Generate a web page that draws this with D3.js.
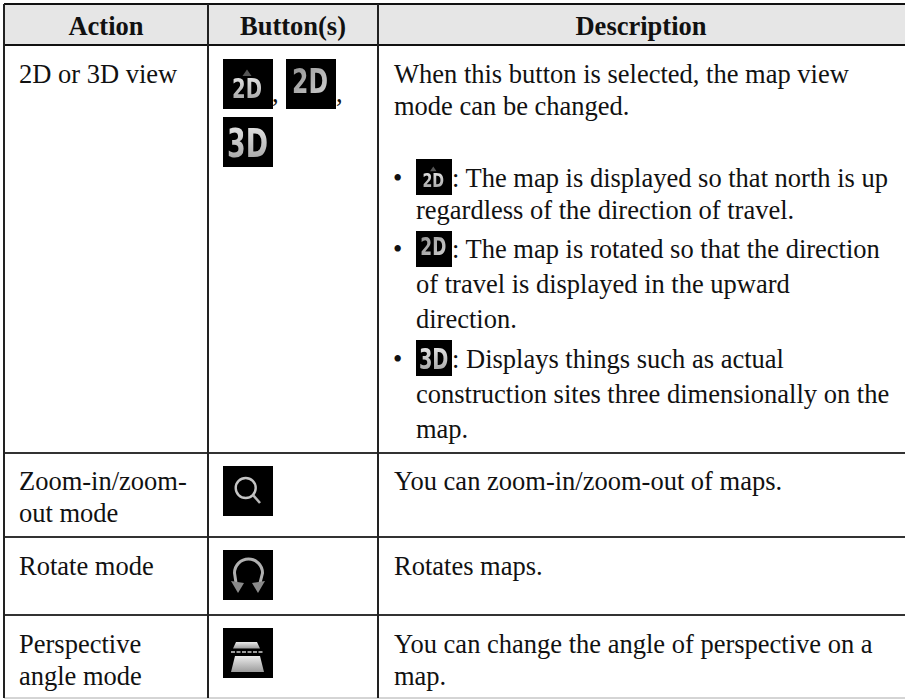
<!DOCTYPE html>
<html>
<head>
<meta charset="utf-8">
<script src="https://cdn.jsdelivr.net/npm/d3@7"></script>
<style>
  html, body { margin: 0; padding: 0; background: #fff; overflow: hidden; }
  text { font-family: "Liberation Serif", serif; fill: #111; }
</style>
</head>
<body>
<div id="chart"></div>
<script>
const WIDTH = 905;
const HEIGHT = 699;
const FONT_SIZE = 26.5;
const WRAP_GAP = 32;   // line gap in plain paragraphs
const LIST_GAP = 35;   // line gap in the bullet list

// table content
const columns = ['Action', 'Button(s)', 'Description'];
const actions = [
  ['2D or 3D view'],
  ['Zoom-in/zoom-', 'out mode'],
  ['Rotate mode'],
  ['Perspective', 'angle mode']
];
const buttons = [
  ['north', 'heading', 'three'],
  ['zoom'],
  ['rotate'],
  ['angle']
];
const introLines = ['When this button is selected, the map view', 'mode can be changed.'];
const bulletIcons = ['north', 'heading', 'three'];
const bulletLines = [
  [': The map is displayed so that north is up', 'regardless of the direction of travel.'],
  [': The map is rotated so that the direction', 'of travel is displayed in the upward', 'direction.'],
  [': Displays things such as actual', 'construction sites three dimensionally on the', 'map.']
];
const otherDescriptions = [
  ['You can zoom-in/zoom-out of maps.'],
  ['Rotates maps.'],
  ['You can change the angle of perspective on a', 'map.']
];

// layout
const colX = d3.scaleOrdinal().domain(columns).range([4, 208, 378]);
const colMid = d3.scaleOrdinal().domain(columns).range([106, 293, 641]);
const rowTop = d3.scaleOrdinal().domain(d3.range(5)).range([45, 453, 537, 615, 698]);
const ruleTop = 4;

const svg = d3.select('#chart').append('svg')
  .attr('width', WIDTH)
  .attr('height', HEIGHT)
  .style('display', 'block');

const defs = svg.append('defs');
defs.append('filter').attr('id', 'soft')
  .attr('x', '-10%').attr('y', '-10%').attr('width', '120%').attr('height', '120%')
  .append('feGaussianBlur').attr('stdDeviation', 0.55);
const grad = defs.append('linearGradient').attr('id', 'metal')
  .attr('x1', 0).attr('x2', 0).attr('y1', 0).attr('y2', 1);
grad.append('stop').attr('offset', 0).attr('stop-color', '#ececec');
grad.append('stop').attr('offset', 1).attr('stop-color', '#9c9c9c');
const gradDim = defs.append('linearGradient').attr('id', 'metalDim')
  .attr('x1', 0).attr('x2', 1).attr('y1', 0).attr('y2', 1);
gradDim.append('stop').attr('offset', 0).attr('stop-color', '#8e8e8e');
gradDim.append('stop').attr('offset', 1).attr('stop-color', '#d4d4d4');

// header band
svg.append('rect')
  .attr('x', colX('Action')).attr('y', ruleTop)
  .attr('width', WIDTH - colX('Action')).attr('height', rowTop(0) - ruleTop)
  .attr('fill', '#e6e6e6');

// icon lettering is narrower than DejaVu Bold, so squeeze it to the wanted width
function label(g, str, x, y, size, wide, fill) {
  const t = g.append('text').text(str)
    .style('font-family', '"DejaVu Sans", sans-serif')
    .style('font-weight', 700)
    .style('font-size', size + 'px')
    .style('fill', fill);
  const squeeze = wide / t.node().getComputedTextLength();
  t.attr('transform', `translate(${x},${y}) scale(${squeeze},1)`);
}

// every icon is drawn in a 50 x 50 box
const iconDraw = {
  north(g) {
    g.append('path').attr('d', 'M19.5 17 L24 10.5 L28.5 17 Z').attr('fill', '#555');
    label(g, '2D', 9, 39, 27, 30, 'url(#metal)');
  },
  heading(g) {
    label(g, '2D', 6, 34, 34, 36, 'url(#metalDim)');
  },
  three(g) {
    label(g, '3D', 4, 40, 39, 41, 'url(#metal)');
  },
  zoom(g) {
    g.append('circle').attr('cx', 22.7).attr('cy', 22).attr('r', 10)
      .attr('fill', 'none').attr('stroke', '#c4c4c4').attr('stroke-width', 2.4);
    g.append('line').attr('x1', 30).attr('y1', 29).attr('x2', 37).attr('y2', 37)
      .attr('stroke', '#b8b8b8').attr('stroke-width', 2.6);
  },
  rotate(g) {
    g.append('path').attr('d', 'M13 33 L11.5 23 A14 14 0 1 1 39.5 23 L37 33')
      .attr('fill', 'none').attr('stroke', '#b0b0b0').attr('stroke-width', 3);
    g.append('path').attr('d', 'M8 31 L21 33 L15 43 Z').attr('fill', '#8a8a8a');
    g.append('path').attr('d', 'M42 31 L29 33 L35 43 Z').attr('fill', '#8a8a8a');
  },
  angle(g) {
    g.append('path').attr('d', 'M13 14 L34 14 L37 20.5 L10 20.5 Z').attr('fill', 'url(#metal)');
    g.append('line').attr('x1', 8).attr('x2', 41).attr('y1', 24).attr('y2', 24)
      .attr('stroke', '#cfcfcf').attr('stroke-width', 1.4).attr('stroke-dasharray', '4 1.5');
    g.append('path').attr('d', 'M12 28 L37 28 L41 44 L8 44 Z').attr('fill', 'url(#metal)');
  }
};

function drawIcon(kind, x, y, size) {
  const g = svg.append('g').attr('transform', `translate(${x},${y}) scale(${size / 50})`);
  g.append('rect').attr('width', 50).attr('height', 50).attr('fill', '#000');
  const inner = g.append('g').attr('filter', 'url(#soft)');
  iconDraw[kind](inner);
}

function addText(str, x, y, opts = {}) {
  return svg.append('text').text(str)
    .attr('x', x).attr('y', y)
    .attr('text-anchor', opts.anchor || 'start')
    .style('font-size', FONT_SIZE + 'px')
    .style('font-weight', opts.bold ? 700 : 400);
}

function addLines(lines, x, y, gap) {
  lines.forEach((line, i) => addText(line, x, y + i * gap));
}

// header
columns.forEach(c => addText(c, colMid(c), 35, { anchor: 'middle', bold: true }));

// action column
const rowBase = [490, 575, 653];
addLines(actions[0], 19, 83, WRAP_GAP);
actions.slice(1).forEach((lines, r) => addLines(lines, 19, rowBase[r], WRAP_GAP));

// button column
const iconSize = 50;
const firstRowIcons = d3.scaleOrdinal().domain(buttons[0]).range([[223, 59], [286, 59], [223, 117]]);
buttons[0].forEach(k => drawIcon(k, firstRowIcons(k)[0], firstRowIcons(k)[1], iconSize));
addText(',', 272, 102);
addText(',', 336, 102);
const iconTop = [466, 550, 628];
buttons.slice(1).forEach((kinds, r) => drawIcon(kinds[0], 223, iconTop[r], iconSize));

// description column
const descX = 394;
const bulletX = 393;
const bulletIconX = 416;
const bulletTextX = 452;
const bulletBase = [187, 258, 368];
const bulletIconTop = [159, 231, 340];
addLines(introLines, descX, 83, WRAP_GAP);
bulletLines.forEach((lines, b) => {
  const y = bulletBase[b];
  addText('\u2022', bulletX, y);
  drawIcon(bulletIcons[b], bulletIconX, bulletIconTop[b], 36);
  addText(lines[0], bulletTextX, y);
  addLines(lines.slice(1), bulletIconX, y + (b === 0 ? WRAP_GAP : LIST_GAP), LIST_GAP);
});
otherDescriptions.forEach((lines, r) => addLines(lines, descX, rowBase[r], WRAP_GAP));

// rules
function rule(x1, y1, x2, y2, color, width) {
  svg.append('line')
    .attr('x1', x1).attr('y1', y1).attr('x2', x2).attr('y2', y2)
    .attr('stroke', color).attr('stroke-width', width);
}
rule(colX('Action'), ruleTop, WIDTH, ruleTop, '#111', 2);
rule(colX('Action'), rowTop(0), WIDTH, rowTop(0), '#111', 2);
[1, 2, 3].forEach(r => rule(colX('Action'), rowTop(r), WIDTH, rowTop(r), '#333', 2));
rule(colX('Action'), rowTop(4), WIDTH, rowTop(4), '#aaa', 1);
columns.forEach(c => rule(colX(c), ruleTop, colX(c), rowTop(4), '#222', 2));
</script>
</body>
</html>
